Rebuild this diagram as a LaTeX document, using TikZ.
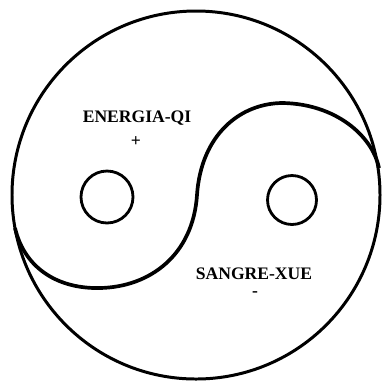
\documentclass[tikz,border=0pt]{standalone}
\usepackage{fontspec}
\setmainfont{Liberation Serif}
\tikzset{
  ring/.style={draw, circle, inner sep=0pt, line width=1.6pt},
  tag/.style={font=\fontsize{10}{12}\selectfont\bfseries, inner sep=0pt}
}
\begin{document}
\begin{tikzpicture}[x=0.02cm, y=-0.02cm]
\useasboundingbox (0,0) rectangle (384,380);
\coordinate (c) at (196,195);
\draw[line width=1.7pt] (c) circle[radius=184];
% the S line between the two halves
\coordinate (sl) at (15,228);
\coordinate (sb) at (100,288);
\coordinate (sm) at (197,195);
\coordinate (st) at (283,103);
\coordinate (sr) at (379,168);
\draw[line width=2.1pt] (sl) .. controls (25,270) and (60,289) .. (sb)
    .. controls (150,287) and (193,255) .. (sm)
    .. controls (201,135) and (240,103) .. (st)
    .. controls (335,104) and (372,135) .. (sr);
\node[ring, minimum size=1.04cm] at(107,197)(yang){};
\node[ring, minimum size=0.98cm] at(292,200)(yin){};
\node[tag] at(137,118)(qi){ENERGIA-QI};
\node[tag] at(136,142)(plus){+};
\node[tag] at(254,274)(xue){SANGRE-XUE};
\node[tag] at(255,294)(minus){-};
\end{tikzpicture}
\end{document}
